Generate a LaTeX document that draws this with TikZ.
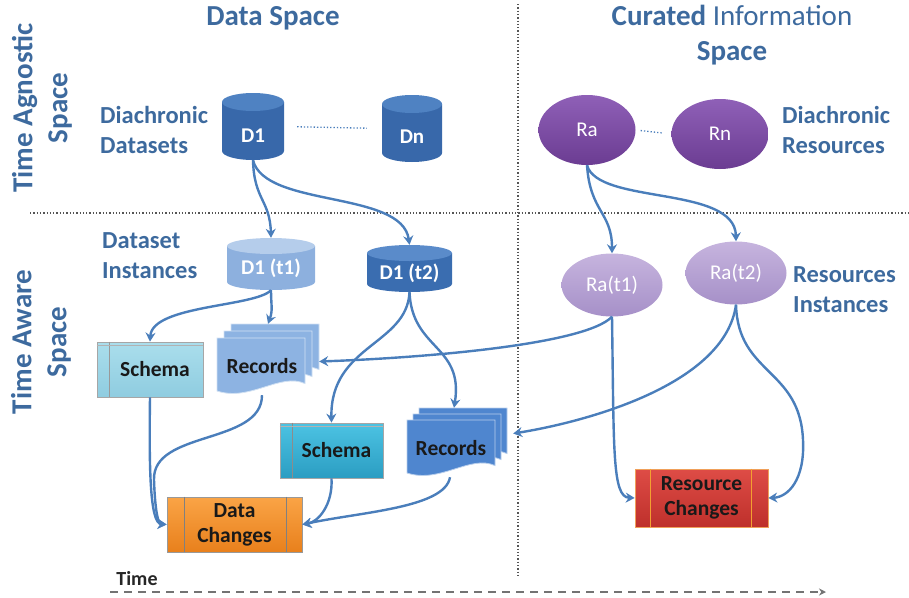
\documentclass[tikz,border=0pt]{standalone}
\usepackage{fontspec}
\setmainfont{Carlito}
\usetikzlibrary{shapes.geometric,arrows.meta}
\definecolor{ttl}{HTML}{3D6A9E}
\definecolor{conncol}{HTML}{4A7EBB}
\definecolor{dotcol}{HTML}{555555}
\definecolor{dOneBody}{HTML}{3868AA}
\definecolor{dOneTop}{HTML}{4F82C2}
\definecolor{dTaBody}{HTML}{8DB0DE}
\definecolor{dTaTop}{HTML}{B5CDEB}
\definecolor{dTbBody}{HTML}{3A6DB0}
\definecolor{dTbTop}{HTML}{5A8BCA}
\definecolor{recA}{HTML}{8DB3E2}
\definecolor{recB}{HTML}{4F86CF}
\definecolor{ResTop}{HTML}{8F60B7}
\definecolor{ResBot}{HTML}{6B3C92}
\definecolor{RtTop}{HTML}{C6B4DE}
\definecolor{RtBot}{HTML}{A690C8}
\definecolor{sAtop}{HTML}{AADEEC}
\definecolor{sAbot}{HTML}{8FCCE0}
\definecolor{sBtop}{HTML}{4CC3E3}
\definecolor{sBbot}{HTML}{2B9DC2}
\definecolor{dcTop}{HTML}{FAA446}
\definecolor{dcBot}{HTML}{E8801C}
\definecolor{rcTop}{HTML}{DE4C46}
\definecolor{rcBot}{HTML}{BE302B}
\definecolor{rcEdge}{HTML}{F0A05A}
\definecolor{rcLine}{HTML}{F3A030}
% document page: x, y(top), width, height, colour
\newcommand{\docshape}[5]{%
  \filldraw[fill=#5, draw=#5!40!white, line width=0.8pt]
    (#1,#2) -- ({#1+#3},#2) -- ({#1+#3},{#2+0.8*#4})
    .. controls ({#1+0.72*#3},{#2+0.6*#4}) and ({#1+0.38*#3},{#2+1.12*#4}) ..
    (#1,{#2+0.93*#4}) -- cycle;}
% cylinder: cx, top, rx, height, ry, body colour, top colour
\newcommand{\cylshape}[7]{%
  \fill[#6] ({#1-#3},{#2+#5}) -- ({#1-#3},{#2+#4-#5})
    arc[start angle=180, end angle=360, x radius=#3pt, y radius=#5pt]
    -- ({#1+#3},{#2+#5}) -- cycle;
  \fill[#7] (#1,{#2+#5}) ellipse[x radius=#3pt, y radius=#5pt];}
\begin{document}
\begin{tikzpicture}[x=1pt,y=-1pt,
  ttltext/.style={text=ttl, font=\bfseries\fontsize{29}{35}\selectfont, align=center, inner sep=0},
  sidetext/.style={text=ttl, font=\bfseries\fontsize{24.5}{30}\selectfont, align=left, inner sep=0, anchor=west},
  cylbox/.style={inner sep=0, draw=none},
  cyltext/.style={text=white, font=\bfseries\fontsize{21}{24}\selectfont, inner sep=0},
  resA/.style={ellipse, inner sep=0, minimum width=97pt, minimum height=70pt, top color=ResTop, bottom color=ResBot, text=white, font=\bfseries\fontsize{21}{24}\selectfont},
  resB/.style={ellipse, inner sep=0, minimum width=101pt, minimum height=63pt, top color=RtTop, bottom color=RtBot, text=white, font=\fontsize{21}{24}\selectfont},
  boxtext/.style={text=black!90, font=\bfseries\fontsize{21.5}{25}\selectfont, align=center},
  conn/.style={draw=conncol, line width=2.4pt, -{Stealth[length=9pt,width=10pt,inset=3pt]}},
  sepline/.style={draw=dotcol, line width=1.3pt, dotted},
]
\useasboundingbox (0,0) rectangle (909,597);

% separators
\coordinate (vtop) at (518,4);
\coordinate (vbot) at (518,576);
\coordinate (hleft) at (30,213);
\coordinate (hright) at (909,213);
\draw[sepline] (vtop) -- (vbot);
\draw[sepline] (hleft) -- (hright);

% titles
\node[ttltext] (dspace) at (273,18) {Data Space};
\node[ttltext] (cspace) at (732,35) {Curated {\mdseries Information}\\Space};
\node[ttltext, rotate=90] (agn) at (42,108) {Time Agnostic\\Space};
\node[ttltext, rotate=90] (awr) at (41,342) {Time Aware\\Space};
\node[sidetext] (ddsets) at (100,130) {Diachronic\\Datasets};
\node[sidetext] (dinst) at (102,256) {Dataset\\Instances};
\node[sidetext] (dres) at (782,130) {Diachronic\\Resources};
\node[sidetext] (rinst) at (793,290) {Resources\\Instances};

% diachronic datasets
\cylshape{253}{93}{31}{67}{9}{dOneBody}{dOneTop}
\node[cylbox, minimum width=62pt, minimum height=67pt] (D1) at (253,126.5) {};
\node[cyltext] (D1l) at (253,136) {D1};
\cylshape{412}{95}{30}{67}{9}{dOneBody}{dOneTop}
\node[cylbox, minimum width=60pt, minimum height=67pt] (Dn) at (412,128.5) {};
\node[cyltext] (Dnl) at (412,137) {Dn};
\draw[conncol, line width=1.3pt, dotted, shorten <=13pt, shorten >=15pt] (D1.east) -- (Dn.west);

% dataset instances
\cylshape{271}{238}{44}{52}{8}{dTaBody}{dTaTop}
\node[cylbox, minimum width=88pt, minimum height=52pt] (D1a) at (271,264) {};
\node[cyltext] (D1al) at (271,268) {D1 (t1)};
\cylshape{409.5}{245}{42.5}{47}{8}{dTbBody}{dTbTop}
\node[cylbox, minimum width=85pt, minimum height=47pt] (D1b) at (409.5,268.5) {};
\node[cyltext] (D1bl) at (409.5,273) {D1 (t2)};

% resources
\node[resA] (Ra) at (587,130) {\mdseries Ra};
\node[resA] (Rn) at (720,134) {\mdseries Rn};
\draw[conncol, line width=1.3pt, dotted, shorten <=5pt, shorten >=9pt] (Ra.east) -- (Rn.west);
\node[resB] (Ra1) at (612,285) {Ra(t1)};
\node[resB] (Ra2) at (736,273) {Ra(t2)};

% schema boxes
\node[draw=black!35, line width=0.8pt, top color=sAtop, bottom color=sAbot,
      minimum width=106pt, minimum height=55pt, inner sep=0, boxtext, text width=96pt] (S1) at (150,369.5) {\hspace*{10pt}Schema};
\draw[black!40, line width=0.8pt] ([xshift=13pt]S1.north west) -- ([xshift=13pt]S1.south west);
\draw[black!30, line width=0.6pt] ([yshift=-4pt]S1.north west) -- ([yshift=-4pt]S1.north east);

\node[draw=black!35, line width=0.8pt, top color=sBtop, bottom color=sBbot,
      minimum width=103pt, minimum height=55pt, inner sep=0, boxtext, text width=96pt] (S2) at (331.5,450.5) {\hspace*{10pt}Schema};
\draw[black!45, line width=0.8pt] ([xshift=13pt]S2.north west) -- ([xshift=13pt]S2.south west);
\draw[black!30, line width=0.6pt] ([yshift=-4pt]S2.north west) -- ([yshift=-4pt]S2.north east);

% records 1
\docshape{231}{324}{88}{57}{recA}
\docshape{224}{331}{88}{57}{recA}
\docshape{217}{338}{88}{57}{recA}
\node[inner sep=0, minimum width=102pt, minimum height=71pt] (rec1) at (268,359.5) {};
\node[boxtext] (rec1t) at (262,366) {Records};

% records 2
\docshape{419}{408}{88}{57}{recB}
\docshape{413}{414}{88}{57}{recB}
\docshape{407}{420}{88}{57}{recB}
\node[inner sep=0, minimum width=100pt, minimum height=69pt] (rec2) at (457,442.5) {};
\node[boxtext] (rec2t) at (451,448) {Records};

% change boxes
\node[draw=black!40, line width=0.8pt, top color=dcTop, bottom color=dcBot,
      minimum width=135pt, minimum height=55pt, inner sep=0, boxtext] (DC) at (234.5,524.5) {Data\\Changes};
\draw[black!50, line width=0.8pt] ([xshift=18pt]DC.north west) -- ([xshift=18pt]DC.south west);
\draw[black!50, line width=0.8pt] ([xshift=-16pt]DC.north east) -- ([xshift=-16pt]DC.south east);

\node[draw=rcEdge, line width=0.6pt, top color=rcTop, bottom color=rcBot,
      minimum width=133pt, minimum height=58pt, inner sep=0, boxtext] (RC) at (701.5,498) {Resource\\Changes};
\draw[rcLine, line width=0.9pt] ([xshift=16pt]RC.north west) -- ([xshift=16pt]RC.south west);
\draw[rcLine, line width=0.9pt] ([xshift=-17pt]RC.north east) -- ([xshift=-17pt]RC.south east);

% connectors
\draw[conn] (D1.south) .. controls (254,200) and (270,200) .. (D1a.north);
\draw[conn] (D1.south) .. controls (265,208) and (402,190) .. (D1b.north);
\draw[conn] (Ra.south) .. controls (590,212) and (612,212) .. (Ra1.north);
\draw[conn] (Ra.south) .. controls (598,205) and (735,185) .. (Ra2.north);
\draw[conn] (D1a.south) .. controls (255,307) and (152,305) .. (S1.north);
\draw[conn] (D1a.south) .. controls (271,305) and (273,310) .. (rec1.north);
\draw[conn] (D1b.south) .. controls (407,345) and (330,345) .. (S2.north);
\draw[conn] (D1b.south) .. controls (412,350) and (464,345) .. ([xshift=-3pt]rec2.north);
\draw[conn] (Ra1.south) .. controls (585,345) and (420,358) .. ([yshift=-2pt]rec1.east);
\draw[conn] (Ra1.south) .. controls (614,450) and (612,497) .. (RC.west);
\draw[conn] (Ra2.south) .. controls (725,385) and (585,422) .. ([yshift=9pt, xshift=6pt]rec2.east);
\draw[conn] (Ra2.south) .. controls (738,375) and (800,368) .. (803,440) .. controls (805,480) and (788,497) .. (RC.east);
\draw[conn] (S1.south) .. controls (149,470) and (150,523) .. (DC.west);
\draw[conn] ([xshift=-6pt]rec1.south) .. controls (262,445) and (152,430) .. (154,480) .. controls (155,510) and (158,524) .. (DC.west);
\draw[conn] (S2.south) .. controls (333,505) and (318,522) .. (DC.east);
\draw[conn] ([xshift=-7pt]rec2.south) .. controls (445,508) and (360,512) .. (DC.east);

% time axis
\node[text=black!85, font=\bfseries\fontsize{20}{22}\selectfont, inner sep=0] (time) at (137,579) {Time};
\coordinate (tstart) at (110,592);
\coordinate (tend) at (826,592);
\draw[black!55, line width=1.3pt, dash pattern=on 8pt off 6pt, -{Stealth[length=7pt,width=7pt]}] (tstart) -- (tend);
\end{tikzpicture}
\end{document}
